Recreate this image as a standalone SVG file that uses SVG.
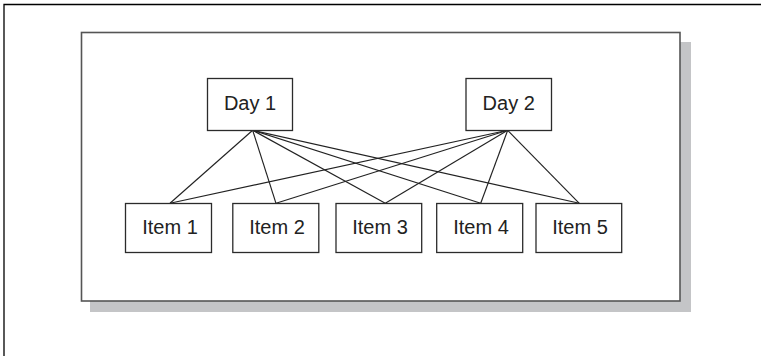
<svg xmlns="http://www.w3.org/2000/svg" width="761" height="356" viewBox="0 0 761 356">
<style>
.box{fill:#fff;stroke:#2b2b2b;stroke-width:1.3}
.lbl{font-family:"Liberation Sans",Arial,sans-serif;font-size:20px;fill:#222;text-anchor:middle}
.edge{stroke:#222;stroke-width:1.15;fill:none}
</style>
<rect width="761" height="356" fill="#fff"/>
<path d="M4 356 V4.5 H761" fill="none" stroke="#000" stroke-width="1.3"/>
<rect x="90" y="42" width="601" height="270" fill="#c4c5c7"/>
<rect x="81.5" y="32.5" width="598.5" height="268.5" fill="#fff" stroke="#555" stroke-width="1.6"/>
<g id="connectors">
<line class="edge" x1="252.7" y1="130.3" x2="170" y2="203.3"/>
<line class="edge" x1="252.7" y1="130.3" x2="276" y2="203.3"/>
<line class="edge" x1="252.7" y1="130.3" x2="385.3" y2="203.3"/>
<line class="edge" x1="252.7" y1="130.3" x2="480.7" y2="203.3"/>
<line class="edge" x1="252.7" y1="130.3" x2="579.3" y2="203.3"/>
<line class="edge" x1="507.7" y1="130.3" x2="170" y2="203.3"/>
<line class="edge" x1="507.7" y1="130.3" x2="276" y2="203.3"/>
<line class="edge" x1="507.7" y1="130.3" x2="385.3" y2="203.3"/>
<line class="edge" x1="507.7" y1="130.3" x2="480.7" y2="203.3"/>
<line class="edge" x1="507.7" y1="130.3" x2="579.3" y2="203.3"/>
</g>
<g id="day1"><rect class="box" x="207.5" y="78.5" width="85" height="52"/><text class="lbl" x="250" y="109.5">Day 1</text></g>
<g id="day2"><rect class="box" x="466" y="78.5" width="85.5" height="52"/><text class="lbl" x="508.7" y="109.5">Day 2</text></g>
<g id="item1"><rect class="box" x="125.5" y="203.5" width="86" height="49"/><text class="lbl" x="170" y="234.3">Item 1</text></g>
<g id="item2"><rect class="box" x="232.8" y="203.5" width="86" height="49"/><text class="lbl" x="277" y="234.3">Item 2</text></g>
<g id="item3"><rect class="box" x="336" y="203.5" width="85.7" height="49"/><text class="lbl" x="380" y="234.3">Item 3</text></g>
<g id="item4"><rect class="box" x="436.7" y="203.5" width="86" height="49"/><text class="lbl" x="481" y="234.3">Item 4</text></g>
<g id="item5"><rect class="box" x="536" y="203.5" width="85.7" height="49"/><text class="lbl" x="580" y="234.3">Item 5</text></g>
</svg>
